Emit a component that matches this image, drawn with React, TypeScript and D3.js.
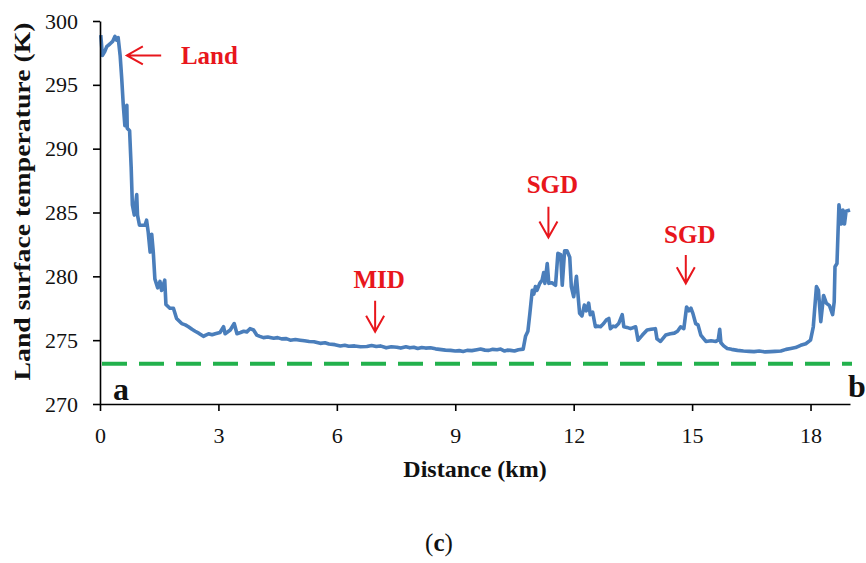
import React, { useEffect, useRef } from "react";
import * as d3 from "d3";

// distance along the transect (km) and land surface temperature (K)
const distanceKm = [
  0.02, 0.06, 0.12, 0.17, 0.25, 0.32, 0.38, 0.42, 0.46, 0.51, 0.55, 0.59, 0.63, 0.68, 0.69,
  0.75, 0.79, 0.82, 0.87, 0.93, 0.95, 1.0, 1.14, 1.18, 1.22, 1.27, 1.31, 1.35, 1.39, 1.46,
  1.52, 1.56, 1.64, 1.67, 1.77, 1.86, 1.94, 2.07, 2.16, 2.24, 2.33, 2.41, 2.5, 2.62, 2.68,
  2.75, 2.84, 2.92, 3.04, 3.13, 3.17, 3.3, 3.4, 3.47, 3.56, 3.64, 3.72, 3.8, 3.89, 3.97,
  4.05, 4.14, 4.25, 4.4, 4.5, 4.6, 4.72, 4.82, 4.95, 5.07, 5.18, 5.3, 5.42, 5.58, 5.7, 5.8,
  5.95, 6.09, 6.2, 6.3, 6.45, 6.6, 6.76, 6.88, 7.0, 7.1, 7.25, 7.38, 7.52, 7.62, 7.75, 7.85,
  7.95, 8.05, 8.15, 8.25, 8.37, 8.5, 8.6, 8.75, 8.88, 9.0, 9.1, 9.2, 9.3, 9.42, 9.55, 9.64,
  9.75, 9.85, 9.95, 10.06, 10.15, 10.25, 10.32, 10.4, 10.5, 10.6, 10.72, 10.78, 10.84, 10.89,
  10.95, 10.99, 11.03, 11.07, 11.14, 11.2, 11.24, 11.27, 11.33, 11.37, 11.45, 11.54, 11.6,
  11.67, 11.71, 11.77, 11.83, 11.9, 11.94, 12.0, 12.07, 12.1, 12.15, 12.21, 12.27, 12.32,
  12.38, 12.42, 12.48, 12.55, 12.62, 12.68, 12.76, 12.83, 12.89, 12.93, 13.0, 13.06, 13.14,
  13.23, 13.27, 13.35, 13.44, 13.57, 13.63, 13.74, 13.86, 13.96, 14.07, 14.11, 14.2, 14.33,
  14.45, 14.55, 14.63, 14.71, 14.79, 14.86, 14.92, 14.97, 15.02, 15.09, 15.15, 15.22, 15.35,
  15.48, 15.6, 15.66, 15.7, 15.73, 15.8, 15.89, 16.0, 16.15, 16.3, 16.45, 16.57, 16.7, 16.85,
  16.99, 17.1, 17.25, 17.38, 17.5, 17.62, 17.75, 17.88, 18.0, 18.07, 18.15, 18.2, 18.26,
  18.33, 18.4, 18.48, 18.56, 18.6, 18.62, 18.67, 18.72, 18.78, 18.82, 18.86, 18.9, 19.0,
];
const lstK = [
  298.9, 297.3, 297.6, 298.0, 298.2, 298.4, 298.8, 298.5, 298.7, 297.3, 295.5, 293.4, 291.8,
  293.4, 291.6, 291.4, 288.5, 285.6, 284.8, 286.4, 284.8, 284.0, 284.0, 284.4, 283.5, 281.9,
  283.3, 281.9, 279.8, 279.1, 279.6, 278.9, 279.7, 277.8, 277.5, 277.5, 276.7, 276.3, 276.2,
  276.05, 275.85, 275.7, 275.55, 275.3, 275.4, 275.5, 275.42, 275.5, 275.6, 276.05, 275.5,
  275.8, 276.3, 275.5, 275.6, 275.7, 275.65, 275.9, 275.8, 275.4, 275.3, 275.2, 275.25,
  275.15, 275.2, 275.1, 275.12, 275.0, 275.05, 275.0, 274.95, 274.9, 274.88, 274.75, 274.8,
  274.7, 274.65, 274.55, 274.6, 274.52, 274.55, 274.48, 274.5, 274.58, 274.5, 274.55, 274.4,
  274.48, 274.45, 274.38, 274.48, 274.4, 274.45, 274.35, 274.42, 274.38, 274.4, 274.32,
  274.28, 274.22, 274.2, 274.15, 274.18, 274.12, 274.2, 274.18, 274.25, 274.3, 274.22, 274.2,
  274.28, 274.25, 274.3, 274.15, 274.22, 274.2, 274.15, 274.25, 274.3, 275.3, 275.7, 277.1,
  278.9, 278.6, 279.2, 278.9, 279.45, 279.7, 280.3, 279.45, 281.0, 279.45, 279.5, 279.3, 281.8,
  281.7, 279.3, 282.0, 282.0, 281.5, 279.2, 278.4, 280.0, 278.9, 277.1, 276.9, 277.75, 277.3,
  277.9, 277.0, 277.2, 276.05, 276.1, 276.05, 276.3, 276.6, 276.7, 275.9, 276.1, 276.05,
  276.3, 277.0, 276.05, 276.0, 275.9, 276.05, 275.0, 275.4, 275.8, 275.85, 275.9, 275.1,
  274.9, 275.4, 275.5, 275.55, 275.7, 276.05, 275.9, 277.6, 277.3, 277.5, 277.1, 276.3, 276.2,
  275.4, 274.9, 274.95, 274.9, 275.0, 275.85, 274.8, 274.55, 274.35, 274.28, 274.2, 274.15,
  274.12, 274.1, 274.15, 274.08, 274.1, 274.12, 274.15, 274.28, 274.35, 274.42, 274.6,
  274.72, 275.0, 276.05, 279.2, 278.9, 276.45, 278.5, 277.9, 277.7, 277.0, 278.0, 280.75,
  281.0, 285.6, 284.1, 285.2, 284.1, 285.1, 285.2,
];

const freezingK = 273.15;
const xTicks = [0, 3, 6, 9, 12, 15, 18];
const yTicks = [270, 275, 280, 285, 290, 295, 300];

const labelLand = "Land";
const labelMid = "MID";
const labelSgd = "SGD";

const W = 866;
const H = 563;
const serif = "'Liberation Serif', 'Times New Roman', serif";
const red = "#e8161c";

export default function App() {
  const xAxisRef = useRef<SVGGElement>(null);
  const yAxisRef = useRef<SVGGElement>(null);

  const x = d3.scaleLinear().domain([0, 19]).range([100, 850]);
  const y = d3.scaleLinear().domain([270, 300]).range([404, 21]);

  useEffect(() => {
    const gx = d3.select(xAxisRef.current!);
    gx.call(
      d3.axisBottom(x).tickValues(xTicks).tickSize(7).tickSizeOuter(0).tickPadding(16)
    );
    const gy = d3.select(yAxisRef.current!);
    gy.call(
      d3.axisLeft(y).tickValues(yTicks).tickSize(7).tickSizeOuter(0).tickPadding(15)
    );
    [gx, gy].forEach((g) => {
      g.selectAll("path, line").attr("stroke", "#000").attr("stroke-width", 1.6);
      g.selectAll("text")
        .attr("font-family", serif)
        .attr("font-size", 22)
        .attr("fill", "#111");
    });
  }, []);

  const pts = distanceKm.map((d, i) => [d, lstK[i]] as [number, number]);
  const line = d3
    .line<[number, number]>()
    .x((d) => x(d[0]))
    .y((d) => y(d[1]));

  const arrowDown = (km: number, k0: number, k1: number) => {
    const ax = x(km);
    const y0 = y(k0);
    const y1 = y(k1);
    return `M${ax},${y0}L${ax},${y1}M${ax - 9},${y1 - 16}L${ax},${y1}L${ax + 9},${y1 - 16}`;
  };
  const arrowLeft = (km0: number, km1: number, k: number) => {
    const x0 = x(km0);
    const x1 = x(km1);
    const ay = y(k);
    return `M${x1},${ay}L${x0},${ay}M${x0 + 16},${ay - 9}L${x0},${ay}L${x0 + 16},${ay + 9}`;
  };

  const annoText = {
    fontFamily: serif,
    fontWeight: 700,
    fontSize: 25,
    fill: red,
  } as const;

  return (
    <svg
      width={W}
      height={H}
      style={{ position: "absolute", left: 0, top: 0, background: "#fff" }}
    >
      <line
        x1={x(0)}
        x2={x(19)}
        y1={y(freezingK)}
        y2={y(freezingK)}
        stroke="#22b14c"
        strokeWidth={4}
        strokeDasharray="25,12"
        transform="translate(2,0)"
      />
      <path
        d={line(pts) || ""}
        fill="none"
        stroke="#4a7ebb"
        strokeWidth={3.6}
        strokeLinejoin="round"
      />
      <g ref={xAxisRef} transform={`translate(0,${y(270)})`} />
      <g ref={yAxisRef} transform={`translate(${x(0)},0)`} />

      <text
        transform={`translate(30,${(20 + 383) / 2}) rotate(-90)`}
        textAnchor="middle"
        fontFamily={serif}
        fontWeight={700}
        fontSize={24}
        textLength={358}
        lengthAdjust="spacingAndGlyphs"
        fill="#111"
      >
        Land surface temperature (K)
      </text>
      <text
        x={(x(0) + x(19)) / 2}
        y={477}
        textAnchor="middle"
        fontFamily={serif}
        fontWeight={700}
        fontSize={24}
        fill="#111"
      >
        Distance (km)
      </text>
      <text x={439} y={551} textAnchor="middle" fontFamily={serif} fontSize={25} fill="#111">
        (<tspan fontWeight={700}>c</tspan>)
      </text>

      <text x={x(0.33)} y={y(270.3)} fontFamily={serif} fontWeight={700} fontSize={32} fill="#111">
        a
      </text>
      <text x={x(18.95)} y={y(270.55)} fontFamily={serif} fontWeight={700} fontSize={32} fill="#111">
        b
      </text>

      <g stroke={red} strokeWidth={2} fill="none">
        <path d={arrowLeft(0.68, 1.55, 297.3)} />
        <path d={arrowDown(6.97, 278.09, 275.66)} />
        <path d={arrowDown(11.36, 285.45, 283.05)} />
        <path d={arrowDown(14.84, 281.67, 279.45)} />
      </g>
      <text x={x(2.05)} y={y(296.6)} {...annoText}>
        {labelLand}
      </text>
      <text x={x(7.07)} y={y(279.06)} textAnchor="middle" {...annoText}>
        {labelMid}
      </text>
      <text x={x(11.46)} y={y(286.5)} textAnchor="middle" {...annoText}>
        {labelSgd}
      </text>
      <text x={x(14.94)} y={y(282.58)} textAnchor="middle" {...annoText}>
        {labelSgd}
      </text>
    </svg>
  );
}
